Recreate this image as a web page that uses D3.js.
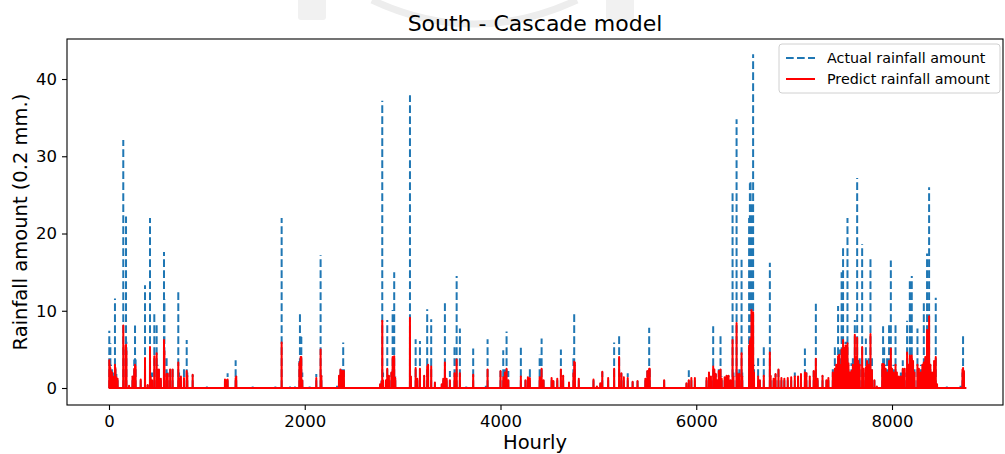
<!DOCTYPE html>
<html>
<head>
<meta charset="utf-8">
<script src="https://cdn.jsdelivr.net/npm/d3@7"></script>
<style>
  html, body { margin: 0; padding: 0; background: #fff; }
  svg { display: block; font-family: "DejaVu Sans", sans-serif; }
</style>
</head>
<body>
<svg id="chart" width="1005" height="454"></svg>
<script>
// Hours (from start of year) with recorded rain, and the matching
// actual / predicted amounts in units of 0.2 mm. All other hours are dry.
const rainHours = [
  3, 8, 14, 20, 30, 40, 61, 66, 75, 88,
  146, 150, 174, 178, 205, 240, 258, 266, 272, 324,
  368, 395, 419, 426, 440, 463, 487, 495, 510, 530,
  562, 566, 589, 600, 625, 650, 708, 716, 735, 766,
  794, 800, 855, 1000, 1185, 1200, 1212, 1294, 1300, 1468,
  1700, 1764, 1850, 1900, 1945, 1951, 1958, 1965, 1975, 2050,
  2118, 2162, 2170, 2330, 2350, 2365, 2380, 2393, 2400, 2770,
  2785, 2792, 2800, 2830, 2843, 2860, 2885, 2898, 2914, 2925,
  3075, 3085, 3133, 3150, 3177, 3220, 3251, 3260, 3292, 3330,
  3400, 3415, 3432, 3450, 3483, 3530, 3552, 3585, 3650, 3721,
  3850, 3868, 4000, 4028, 4045, 4062, 4080, 4208, 4255, 4280,
  4300, 4400, 4420, 4440, 4522, 4540, 4580, 4617, 4640, 4700,
  4745, 4753, 4760, 4800, 4950, 4985, 5020, 5040, 5100, 5161,
  5212, 5235, 5260, 5300, 5350, 5400, 5480, 5500, 5519, 5525,
  5672, 5900, 5924, 5950, 5986, 6105, 6130, 6150, 6173, 6185,
  6200, 6215, 6230, 6248, 6260, 6290, 6310, 6330, 6350, 6371,
  6380, 6412, 6420, 6440, 6463, 6470, 6540, 6548, 6555, 6564,
  6572, 6581, 6590, 6632, 6650, 6690, 6752, 6760, 6790, 6810,
  6840, 6870, 6900, 6935, 6970, 7007, 7040, 7070, 7110, 7125,
  7160, 7200, 7222, 7240, 7290, 7330, 7350, 7395, 7416, 7430,
  7449, 7460, 7470, 7485, 7500, 7510, 7525, 7545, 7555, 7570,
  7586, 7600, 7620, 7630, 7644, 7655, 7670, 7695, 7710, 7733,
  7745, 7760, 7780, 7795, 7820, 7845, 7900, 7909, 7920, 7935,
  7950, 7970, 7988, 8000, 8015, 8036, 8050, 8070, 8090, 8110,
  8130, 8154, 8170, 8182, 8202, 8215, 8230, 8260, 8275, 8295,
  8310, 8325, 8340, 8358, 8370, 8379, 8392, 8410, 8430, 8447,
  8460, 8560, 8700, 8720, 8726, 8735
];

const actualRain = [
  7.4, 5.8, 5.8, 3.0, 2.5, 2.0, 11.6, 2.5, 1.8, 1.2,
  32.1, 5.0, 22.2, 6.0, 0.3, 1.5, 3.7, 8.1, 3.7, 1.3,
  13.3, 0.4, 22.0, 2.0, 2.0, 9.9, 8.4, 3.0, 2.6, 1.0,
  17.6, 11.5, 3.9, 2.0, 2.6, 2.6, 12.5, 2.0, 1.0, 2.6,
  6.2, 2.0, 1.7, 0.2, 1.1, 1.2, 1.9, 3.6, 1.5, 0.2,
  0.2, 22.0, 0.2, 0.2, 3.5, 9.7, 7.1, 6.6, 2.0, 0.2,
  1.8, 17.2, 1.6, 0.3, 1.6, 2.4, 2.6, 5.9, 2.5, 0.5,
  1.0, 37.2, 2.0, 1.0, 8.8, 1.6, 2.0, 10.1, 15.0, 1.5,
  37.9, 1.5, 6.3, 1.2, 6.1, 1.6, 10.2, 3.0, 8.9, 0.7,
  0.5, 1.2, 11.0, 1.2, 2.2, 5.6, 14.5, 7.7, 0.2, 5.1,
  0.3, 6.3, 2.2, 4.9, 2.5, 7.3, 2.2, 5.2, 1.0, 1.4,
  2.5, 4.3, 6.4, 1.0, 1.3, 0.9, 1.2, 5.0, 1.6, 0.7,
  4.3, 9.6, 3.0, 1.2, 1.1, 0.2, 0.6, 2.1, 1.3, 5.9,
  6.7, 1.9, 1.4, 1.9, 0.8, 0.9, 1.2, 2.2, 7.8, 2.4,
  1.0, 0.6, 2.3, 1.3, 1.3, 1.3, 2.0, 1.5, 8.0, 2.0,
  1.8, 1.0, 2.5, 7.1, 1.5, 1.4, 1.6, 1.6, 1.0, 25.2,
  2.0, 34.8, 2.0, 2.5, 16.6, 2.0, 22.0, 26.5, 26.9, 24.0,
  20.0, 43.2, 3.0, 4.0, 1.0, 5.3, 16.2, 1.5, 1.2, 1.8,
  2.4, 1.3, 1.2, 1.3, 1.4, 2.0, 1.5, 1.8, 5.1, 2.0,
  1.5, 2.2, 10.9, 1.2, 1.6, 1.0, 1.3, 2.5, 5.4, 3.0,
  10.6, 3.5, 5.0, 15.0, 18.3, 4.0, 6.0, 22.0, 3.0, 2.0,
  3.2, 4.0, 8.8, 3.0, 27.2, 3.0, 4.0, 18.6, 2.0, 6.4,
  2.5, 4.0, 17.1, 3.9, 1.0, 0.2, 3.0, 8.0, 5.7, 3.0,
  4.0, 8.3, 16.5, 2.0, 3.0, 8.3, 1.5, 1.0, 2.0, 3.6,
  2.0, 8.7, 3.0, 14.1, 14.5, 3.0, 2.5, 7.7, 2.0, 3.0,
  2.5, 11.0, 4.0, 17.4, 6.0, 26.0, 3.0, 2.0, 3.0, 11.7,
  0.5, 0.2, 0.3, 2.0, 7.1, 2.0
];

const predictedRain = [
  3.6, 3.0, 2.6, 2.2, 2.0, 1.5, 3.0, 2.6, 1.4, 1.2,
  8.1, 5.5, 5.6, 4.8, 0.3, 1.5, 2.5, 3.0, 2.8, 1.1,
  3.9, 0.4, 5.3, 1.5, 1.0, 4.1, 4.5, 2.4, 2.4, 1.2,
  6.2, 4.8, 1.8, 1.8, 2.4, 2.4, 3.3, 1.3, 1.5, 1.3,
  2.2, 1.6, 1.7, 0, 1.1, 1.0, 1.1, 1.3, 1.5, 0,
  0, 5.9, 0, 0, 3.2, 3.4, 4.0, 4.0, 1.0, 0,
  1.3, 5.0, 1.6, 0, 1.6, 2.4, 2.2, 2.2, 2.2, 0.5,
  0.8, 8.7, 1.0, 1.0, 2.5, 1.6, 2.0, 4.0, 4.1, 1.3,
  9.1, 1.5, 2.6, 1.2, 2.5, 1.6, 2.8, 3.0, 2.8, 0.7,
  0.5, 1.2, 3.3, 1.2, 1.0, 1.9, 3.7, 1.9, 0, 1.7,
  0, 2.4, 2.2, 1.4, 2.0, 2.5, 1.0, 1.5, 1.0, 1.4,
  1.3, 1.4, 2.5, 1.0, 1.3, 0.9, 1.2, 2.4, 1.6, 0.7,
  1.9, 3.4, 3.3, 1.2, 1.1, 0.2, 0.6, 2.1, 1.3, 2.5,
  4.0, 1.9, 1.4, 1.3, 0.8, 0.9, 1.2, 2.2, 2.5, 2.5,
  1.0, 0.6, 1.0, 1.3, 1.3, 1.3, 2.0, 1.5, 2.8, 2.4,
  1.8, 1.0, 2.2, 2.4, 1.2, 1.4, 1.6, 1.6, 1.0, 6.2,
  1.5, 8.4, 1.8, 1.8, 4.5, 1.5, 5.5, 6.1, 6.4, 10.1,
  6.0, 9.8, 2.0, 1.5, 1.0, 1.6, 4.6, 1.6, 1.2, 1.8,
  2.4, 1.3, 1.2, 1.3, 1.4, 1.5, 1.5, 1.8, 2.0, 1.9,
  1.5, 2.2, 3.8, 1.2, 1.6, 1.0, 1.3, 2.0, 2.5, 3.0,
  4.1, 4.3, 3.0, 5.0, 6.2, 5.2, 5.5, 5.8, 3.2, 2.0,
  2.2, 3.0, 6.9, 4.0, 6.5, 3.5, 3.0, 5.3, 2.5, 2.7,
  3.5, 3.0, 7.0, 2.3, 1.0, 0.2, 3.1, 3.1, 3.0, 2.5,
  2.0, 3.5, 5.1, 2.5, 2.0, 3.0, 2.0, 1.5, 1.5, 2.5,
  2.5, 4.6, 3.0, 4.2, 4.2, 3.5, 2.0, 3.0, 2.5, 2.0,
  3.0, 3.3, 4.0, 7.5, 5.0, 9.3, 3.0, 2.0, 3.5, 4.0,
  0.5, 0, 0, 2.4, 2.6, 2.2
];

const lastHour = 8760;
const xTicks = [0, 2000, 4000, 6000, 8000];
const yTicks = [0, 10, 20, 30, 40];
const seriesNames = ["Actual rainfall amount", "Predict rainfall amount"];

// Hourly predicted series over the whole year, zero for dry hours
const predictedSeries = new Array(lastHour + 1).fill(0);
rainHours.forEach((h, i) => { predictedSeries[h] = predictedRain[i]; });

const svg = d3.select("#chart");
const plot = { left: 67, right: 1003, top: 39, bottom: 405 };

const x = d3.scaleLinear().domain([-429, 9134]).range([plot.left, plot.right]);
const y = d3.scaleLinear().domain([-2.2, 45.18]).range([plot.bottom, plot.top]);

// Faint header emblem behind the title
const emblem = svg.append("g").attr("fill", "none").attr("stroke", "#ededed");
emblem.append("rect").attr("x", 298).attr("y", -4).attr("width", 28).attr("height", 24)
  .attr("rx", 3).attr("fill", "#f1f1f1").attr("stroke", "none");
emblem.append("rect").attr("x", 606).attr("y", -4).attr("width", 28).attr("height", 24)
  .attr("rx", 3).attr("fill", "#f1f1f1").attr("stroke", "none");
emblem.append("path").attr("d", "M372,0 Q474,48 577,0").attr("stroke-width", 7);

svg.append("defs").append("clipPath").attr("id", "plot-clip")
  .append("rect")
  .attr("x", plot.left).attr("y", plot.top)
  .attr("width", plot.right - plot.left).attr("height", plot.bottom - plot.top);

const line = d3.line().x(d => x(d[0])).y(d => y(d[1]));
const hourLine = d3.line().x((d, i) => x(i)).y(d => y(d));

const lines = svg.append("g").attr("clip-path", "url(#plot-clip)");

// Actual: dashed baseline over the year plus a dashed stroke up to each hour's amount
const actualPath = [line([[0, 0], [lastHour, 0]])]
  .concat(rainHours.map((h, i) => line([[h, 0], [h, actualRain[i]]])))
  .join("");
lines.append("path")
  .attr("d", actualPath)
  .attr("fill", "none")
  .attr("stroke", "#1f77b4")
  .attr("stroke-width", 2)
  .attr("stroke-dasharray", "7.7,3.3");

// Predicted: continuous hourly line
lines.append("path")
  .datum(predictedSeries)
  .attr("d", hourLine)
  .attr("fill", "none")
  .attr("stroke", "#ff0000")
  .attr("stroke-width", 2)
  .attr("stroke-linejoin", "round");

// Axes
const xAxis = svg.append("g")
  .attr("transform", `translate(0,${plot.bottom})`)
  .call(d3.axisBottom(x).tickValues(xTicks).tickFormat(d3.format("d"))
    .tickSize(5).tickPadding(5).tickSizeOuter(0));
const yAxis = svg.append("g")
  .attr("transform", `translate(${plot.left},0)`)
  .call(d3.axisLeft(y).tickValues(yTicks).tickFormat(d3.format("d"))
    .tickSize(5).tickPadding(5).tickSizeOuter(0));
[xAxis, yAxis].forEach(g => {
  g.select(".domain").remove();
  g.selectAll(".tick line").attr("stroke", "#000").attr("stroke-width", 1.1);
  g.selectAll(".tick text")
    .attr("fill", "#000")
    .style("font-family", "DejaVu Sans")
    .style("font-size", "16.5px");
});

// Frame around the plotting area
svg.append("rect")
  .attr("x", plot.left).attr("y", plot.top)
  .attr("width", plot.right - plot.left).attr("height", plot.bottom - plot.top)
  .attr("fill", "none")
  .attr("stroke", "#000")
  .attr("stroke-width", 1.1);

// Titles
svg.append("text")
  .attr("x", (plot.left + plot.right) / 2).attr("y", 31)
  .attr("text-anchor", "middle")
  .style("font-size", "22px")
  .attr("fill", "#000")
  .text("South - Cascade model");
svg.append("text")
  .attr("x", (plot.left + plot.right) / 2).attr("y", 449)
  .attr("text-anchor", "middle")
  .style("font-size", "19.5px")
  .attr("fill", "#000")
  .text("Hourly");
svg.append("text")
  .attr("transform", `translate(27,${(plot.top + plot.bottom) / 2}) rotate(-90)`)
  .attr("text-anchor", "middle")
  .style("font-size", "19.5px")
  .attr("fill", "#000")
  .text("Rainfall amount (0.2 mm.)");

// Legend
const legend = svg.append("g");
legend.append("rect")
  .attr("x", 779).attr("y", 44).attr("width", 221).attr("height", 49)
  .attr("rx", 3)
  .attr("fill", "#fff").attr("fill-opacity", 0.8)
  .attr("stroke", "#d0d0d0").attr("stroke-width", 1);
const legendStyles = [
  { color: "#1f77b4", dash: "7.7,3.3" },
  { color: "#ff0000", dash: null }
];
seriesNames.forEach((name, i) => {
  const yy = 58 + i * 21;
  legend.append("line")
    .attr("x1", 786).attr("x2", 815).attr("y1", yy).attr("y2", yy)
    .attr("stroke", legendStyles[i].color)
    .attr("stroke-width", 2)
    .attr("stroke-dasharray", legendStyles[i].dash);
  legend.append("text")
    .attr("x", 827).attr("y", yy + 5)
    .style("font-size", "14.3px")
    .attr("fill", "#000")
    .text(name);
});
</script>
</body>
</html>
